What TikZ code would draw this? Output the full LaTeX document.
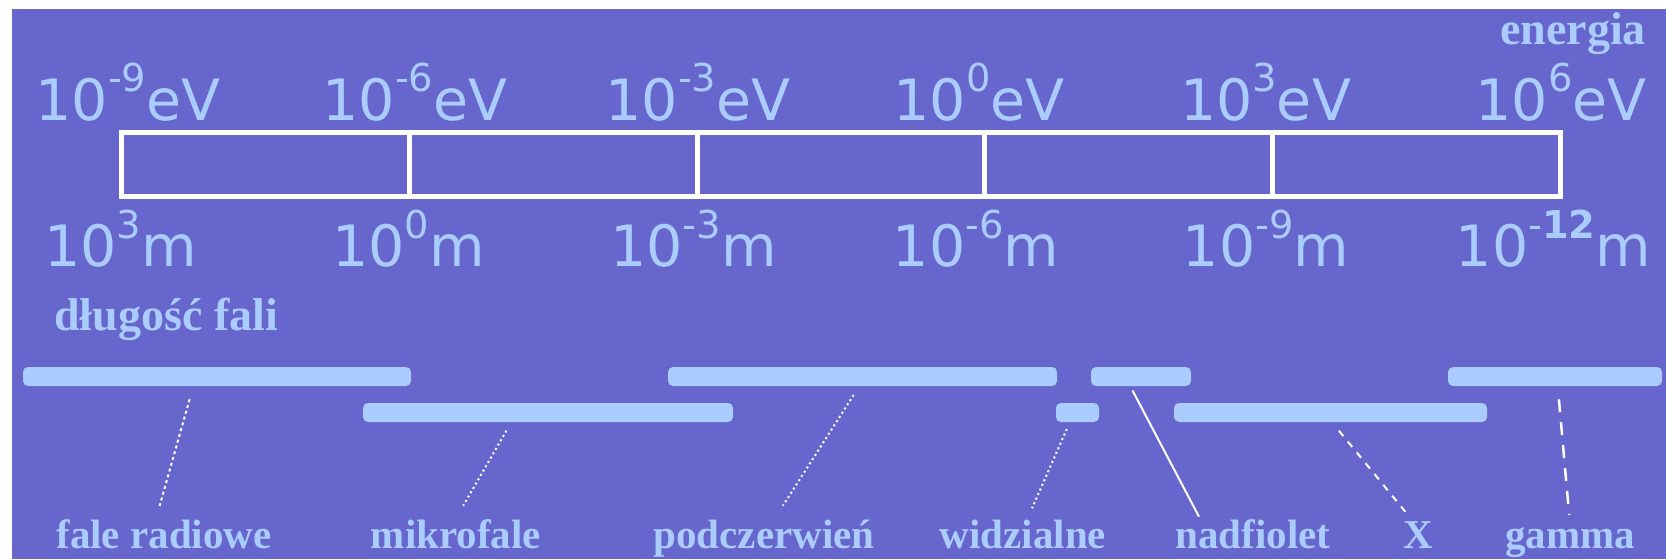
\documentclass[tikz,border=0pt]{standalone}
\usepackage{fontspec}
\newfontfamily\numfont{DejaVu Sans}
\newfontfamily\wordfont{Liberation Serif}
\definecolor{bgblue}{HTML}{6666CC}
\definecolor{paleblue}{HTML}{AACCFF}
% raised exponent for the scale labels
\newcommand{\supexp}[1]{\raisebox{14.2pt}{\fontsize{19.2pt}{19.2pt}\selectfont #1}}
\tikzset{
  scalelbl/.style={text=paleblue, inner sep=0pt, anchor=base,
    font=\numfont\fontsize{28.5pt}{30pt}\selectfont},
  axislbl/.style={text=paleblue, inner sep=0pt, anchor=base,
    font=\wordfont\bfseries\fontsize{23pt}{25pt}\selectfont},
  bandlbl/.style={text=paleblue, inner sep=0pt, anchor=base,
    font=\wordfont\bfseries\fontsize{20.5pt}{22pt}\selectfont},
  band/.style={fill=paleblue, rounded corners=2.5pt, minimum height=9.5pt, inner sep=0pt},
  frame/.style={white, line width=2.5pt},
  finedots/.style={white, line width=1pt, dash pattern=on 1pt off 1.5pt},
  coarsedots/.style={white, line width=1pt, dash pattern=on 1.5pt off 1.5pt},
  shortdash/.style={white, line width=1pt, dash pattern=on 3.5pt off 3.5pt},
  longdash/.style={white, line width=1.25pt, dash pattern=on 6.5pt off 5pt},
  solidtie/.style={white, line width=1pt}
}
\begin{document}
\begin{tikzpicture}[x=0.5pt, y=-0.5pt]
  % canvas and panel
  \fill[white] (0,0) rectangle (1666,559);
  \useasboundingbox (0,0) rectangle (1666,559);
  \fill[bgblue] (12,9) rectangle (1666,559);

  % scale bar with five decades
  \draw[frame] (121.7,132.5) rectangle (1560,196.8);
  \foreach \xx in {409.4,697.1,984.7,1272.3}
    \draw[frame] (\xx,132.5) -- (\xx,196.8);

  % energy labels
  \node[axislbl] (energy) at (1573,44) {energia};
  \node[scalelbl] (e1) at (128,120) {10\supexp{-9}eV};
  \node[scalelbl] (e2) at (415,120) {10\supexp{-6}eV};
  \node[scalelbl] (e3) at (698,120) {10\supexp{-3}eV};
  \node[scalelbl] (e4) at (979,120) {10\supexp{0}eV};
  \node[scalelbl] (e5) at (1265.5,120) {10\supexp{3}eV};
  \node[scalelbl] (e6) at (1561,120) {10\supexp{6}eV};

  % wavelength labels
  \node[scalelbl] (w1) at (120.7,266.7) {10\supexp{3}m};
  \node[scalelbl] (w2) at (408.7,266.7) {10\supexp{0}m};
  \node[scalelbl] (w3) at (693.5,266.7) {10\supexp{-3}m};
  \node[scalelbl] (w4) at (976,266.7) {10\supexp{-6}m};
  \node[scalelbl] (w5) at (1266,266.7) {10\supexp{-9}m};
  \node[scalelbl] (w6) at (1553.5,266.7) {10\supexp{-\bfseries 12}m};
  \node[axislbl, anchor=base west] (wave) at (54,330) {długość fali};

  % spectral bands
  \node[band, minimum width=194pt] (radio) at (217,376.5) {};
  \node[band, minimum width=185pt] (micro) at (548,412.5) {};
  \node[band, minimum width=194.5pt] (infra) at (862.5,376.5) {};
  \node[band, minimum width=21.5pt] (visible) at (1077.5,412.5) {};
  \node[band, minimum width=50pt] (uv) at (1141,376.5) {};
  \node[band, minimum width=156.5pt] (xray) at (1330.5,412.5) {};
  \node[band, minimum width=107pt] (gamma) at (1555,376.5) {};

  % band names
  \node[bandlbl] (radiolbl) at (164,548) {fale radiowe};
  \node[bandlbl] (microlbl) at (456,548) {mikrofale};
  \node[bandlbl] (infralbl) at (764,548) {podczerwień};
  \node[bandlbl] (visiblelbl) at (1023,548) {widzialne};
  \node[bandlbl] (uvlbl) at (1253,548) {nadfiolet};
  \node[bandlbl] (xraylbl) at (1418,548) {X};
  \node[bandlbl] (gammalbl) at (1570,548) {gamma};

  % leader end points
  \coordinate (radio-a) at (189.6,399.3);   \coordinate (radio-b) at (159.6,506);
  \coordinate (micro-a) at (506.4,430.7);   \coordinate (micro-b) at (463.2,505.7);
  \coordinate (infra-a) at (853.6,395);     \coordinate (infra-b) at (782.9,505.7);
  \coordinate (visible-a) at (1066.8,429);  \coordinate (visible-b) at (1032,508.3);
  \coordinate (uv-a) at (1132.5,390.5);     \coordinate (uv-b) at (1199,516.7);
  \coordinate (xray-a) at (1338.9,430.7);   \coordinate (xray-b) at (1405.3,511.7);
  \coordinate (gamma-a) at (1558.9,399.3);  \coordinate (gamma-b) at (1569.2,515);

  % leaders from bands to names
  \draw[coarsedots] (radio-a) -- (radio-b);
  \draw[finedots] (micro-a) -- (micro-b);
  \draw[finedots] (infra-a) -- (infra-b);
  \draw[finedots] (visible-a) -- (visible-b);
  \draw[solidtie] (uv-a) -- (uv-b);
  \draw[shortdash] (xray-a) -- (xray-b);
  \draw[longdash] (gamma-a) -- (gamma-b);
\end{tikzpicture}
\end{document}
